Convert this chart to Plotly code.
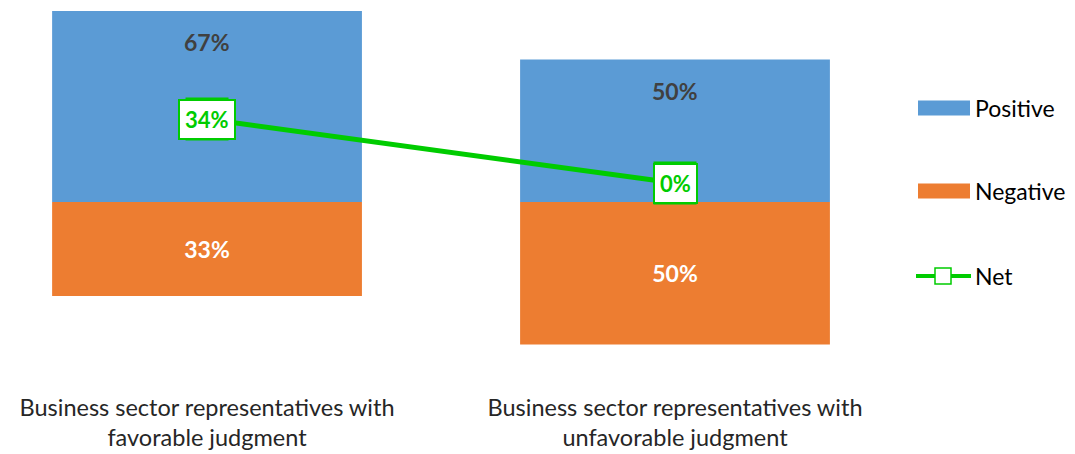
import plotly.graph_objects as go

# data
categories = [
    "Business sector representatives with<br>favorable judgment",
    "Business sector representatives with<br>unfavorable judgment",
]
positive = [67, 50]
negative = [-33, -50]
net = [34, 0]
series_names = ["Positive", "Negative", "Net"]

BLUE = "#5B9BD5"
ORANGE = "#ED7D31"
GREEN = "#00CC00"
FONT = "Lato"

OFF = 8  # page body margin
W, H = 1075 - OFF, 454 - OFF
# plot area, in screenshot pixels
left, right, top, bottom = 10, 909, 10, 391
m_l, m_r = left - OFF, W - (right - OFF)
m_t, m_b = top - OFF, H - (bottom - OFF)
pw, ph = right - left, bottom - top

# axis scales: bar axis zero at y=202 (2.85 px per %), net axis zero at y=183 (1.88 px per %)
y1_rng = [-(bottom - 202) / 2.85, (202 - top) / 2.85]
y2_rng = [-(bottom - 183) / 1.88, (183 - top) / 1.88]


def px(x):
    return (x - left) / pw


def py(y):
    return (bottom - y) / ph


x_idx = list(range(len(categories)))

fig = go.Figure()

fig.add_trace(go.Bar(
    x=x_idx, y=positive, name=series_names[0],
    marker=dict(color=BLUE, line=dict(width=0)),
    hoverinfo="skip",
))
fig.add_trace(go.Bar(
    x=x_idx, y=negative, name=series_names[1],
    marker=dict(color=ORANGE, line=dict(width=0)),
    text=[f"{abs(v)}%" for v in negative],
    textposition="inside", insidetextanchor="middle",
    textfont=dict(family=FONT, size=23, color="white", weight="bold"),
    hoverinfo="skip",
))
fig.add_trace(go.Scatter(
    x=x_idx, y=net, name=series_names[2], yaxis="y2",
    mode="lines+markers",
    line=dict(color=GREEN, width=5),
    marker=dict(symbol="square", size=41, color="white",
                line=dict(color=GREEN, width=2)),
    hoverinfo="skip",
))

annotations = []
# positive labels near top of bars
for i, v in enumerate(positive):
    annotations.append(dict(
        x=i, y=v, xref="x", yref="y", yshift=-31, showarrow=False,
        text=f"{v}%", font=dict(family=FONT, size=23, color="#404040", weight="bold"),
    ))
# net labels in boxes
for i, v in enumerate(net):
    annotations.append(dict(
        x=i, y=v, xref="x", yref="y2", showarrow=False,
        text=f"{v}%", font=dict(family=FONT, size=22, color=GREEN, weight="bold"),
        bgcolor="white", bordercolor=GREEN, borderwidth=2, borderpad=5,
    ))

# legend drawn by hand to match the original layout
legend_y = [108, 191, 276]
shapes = []
for k in range(2):
    shapes.append(dict(
        type="rect", xref="paper", yref="paper",
        x0=px(918), x1=px(970),
        y0=py(legend_y[k] + 7.5), y1=py(legend_y[k] - 7.5),
        fillcolor=[BLUE, ORANGE][k], line=dict(width=0),
    ))
shapes.append(dict(
    type="line", xref="paper", yref="paper",
    x0=px(916), x1=px(971),
    y0=py(legend_y[2]), y1=py(legend_y[2]),
    line=dict(color=GREEN, width=4),
))
shapes.append(dict(
    type="rect", xref="paper", yref="paper",
    x0=px(935), x1=px(951),
    y0=py(legend_y[2] + 8), y1=py(legend_y[2] - 8),
    fillcolor="white", line=dict(color=GREEN, width=1.5),
))
for k, name in enumerate(series_names):
    annotations.append(dict(
        x=px(973), y=py(legend_y[k]),
        xref="paper", yref="paper", xanchor="left", yanchor="middle",
        showarrow=False, text=name,
        font=dict(family=FONT, size=23, color="#000000"),
    ))

fig.update_layout(
    width=W, height=H,
    margin=dict(l=m_l, r=m_r, t=m_t, b=m_b),
    barmode="relative", bargap=0.338,
    plot_bgcolor="white", paper_bgcolor="white",
    showlegend=False,
    font=dict(family=FONT, size=23, color="#262626"),
    xaxis=dict(
        range=[-0.421, 1.5], tickvals=x_idx, ticktext=categories,
        showgrid=False, zeroline=False, showline=False, ticks="",
        tickfont=dict(family=FONT, size=23.5, color="#262626"),
        ticklabelstandoff=0, automargin=False,
    ),
    yaxis=dict(range=y1_rng, visible=False, automargin=False),
    yaxis2=dict(range=y2_rng, overlaying="y", visible=False,
                automargin=False),
    annotations=annotations,
    shapes=shapes,
)

fig.write_html("out.html")
